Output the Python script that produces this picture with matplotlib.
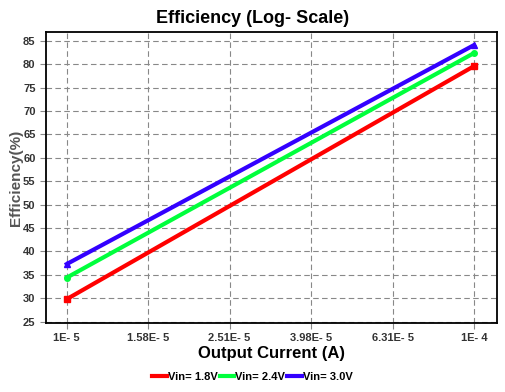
import numpy as np
import matplotlib.pyplot as plt

plt.rcParams['font.family'] = ['Liberation Sans', 'DejaVu Sans']
plt.rcParams['font.weight'] = 'bold'

current = [1e-5, 1e-4]
eff_18 = [29.8, 79.6]
eff_24 = [34.4, 82.4]
eff_30 = [37.3, 84.1]
xticks = [1e-5, 1.58e-5, 2.51e-5, 3.98e-5, 6.31e-5, 1e-4]
xticklabels = ['1E- 5', '1.58E- 5', '2.51E- 5', '3.98E- 5', '6.31E- 5', '1E- 4']

fig = plt.figure(figsize=(5.05, 3.92), dpi=100)
ax = fig.add_axes([46/505, 1-323/392, 451/505, 291/392])

ax.plot(current, eff_18, color='#ff0000', lw=3, marker='s', ms=4, label='Vin= 1.8V')
ax.plot(current, eff_24, color='#00ff3c', lw=3, marker='o', ms=4, label='Vin= 2.4V')
ax.plot(current, eff_30, color='#3300ff', lw=3, marker='^', ms=4, label='Vin= 3.0V')

ax.set_xscale('log')
ax.set_xlim(10**(-5.051), 10**(-3.9435))
ax.set_ylim(24.7, 86.9)
ax.set_xticks(xticks)
ax.set_xticklabels(xticklabels)
ax.minorticks_off()
ax.set_yticks(np.arange(25, 86, 5))
ax.tick_params(labelsize=8, length=4, color='#888888', labelcolor='#333333')
ax.grid(True, color='#888888', ls=(0, (5, 3)), lw=0.8)
for s in ax.spines.values():
    s.set_linewidth(1.3)

# title sits over the figure centre, not the axes centre
fig.suptitle('Efficiency (Log- Scale)', fontsize=13, weight='bold', x=0.5, y=0.975, va='top')
ax.set_xlabel('Output Current (A)', fontsize=12, weight='bold', labelpad=2)
ax.set_ylabel('Efficiency(%)', fontsize=11, weight='bold', color='#555555', labelpad=0)

fig.legend(loc='lower center', bbox_to_anchor=(0.5, 0.0), ncol=3, frameon=False,
           fontsize=8, handlelength=1.3, handletextpad=0.1, columnspacing=0.2,
           markerscale=0)

fig.savefig('out.png', dpi=100)
